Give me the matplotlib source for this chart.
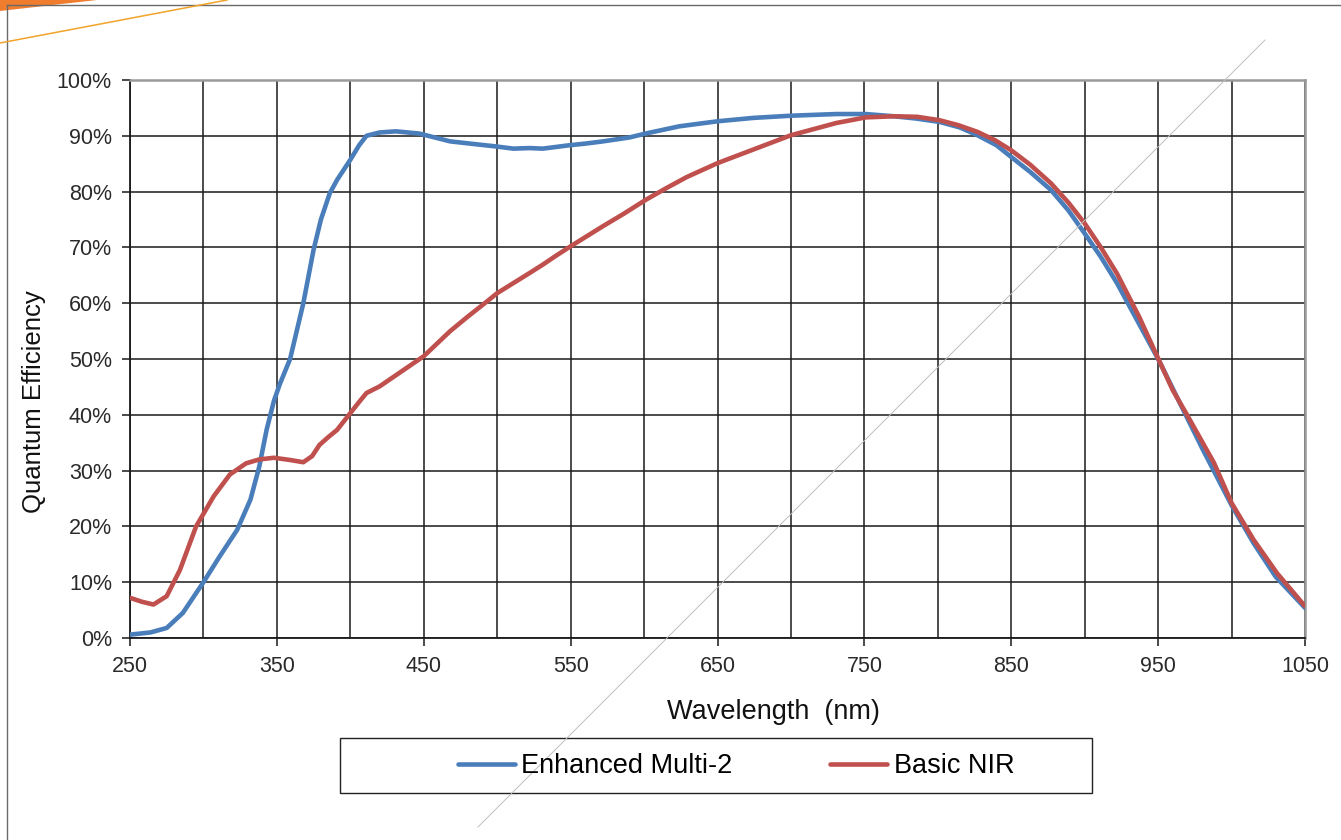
import numpy as np
import matplotlib
matplotlib.use('Agg')
import matplotlib.pyplot as plt
from matplotlib.lines import Line2D
from matplotlib.patches import Rectangle, Polygon

plt.rcParams['font.family'] = ['Liberation Sans', 'DejaVu Sans']

# wavelength (nm) / quantum efficiency (%)
enh_nm = [250, 264, 275, 286, 300, 311, 323, 332, 338, 343, 348, 352, 359, 368,
          375, 380, 386, 391, 400, 406, 411, 420, 431, 447, 468, 485, 499, 511,
          522, 531, 540, 549, 560, 572, 590, 601, 624, 650, 674, 700, 731, 751,
          770, 785, 801, 815, 827, 840, 850, 863, 877, 889, 900, 911, 922, 936,
          951, 965, 980, 1000, 1015, 1030, 1050]
enh_qe = [0.6, 1.0, 1.8, 4.5, 10.0, 14.6, 19.4, 24.8, 30.7, 37.3, 42.5, 45.5, 50.0, 60.0,
          69.6, 75.0, 79.7, 82.1, 85.7, 88.3, 90.0, 90.6, 90.8, 90.4, 89.0, 88.5, 88.1, 87.7,
          87.8, 87.7, 88.0, 88.3, 88.6, 89.0, 89.7, 90.4, 91.7, 92.6, 93.2, 93.6, 93.9, 93.9,
          93.5, 93.1, 92.5, 91.5, 90.1, 88.3, 86.2, 83.5, 80.3, 76.6, 72.5, 68.3, 63.6, 56.8,
          49.5, 42.0, 34.0, 23.8, 17.0, 11.0, 5.4]

nir_nm = [250, 258, 266, 275, 284, 295, 307, 318, 329, 338, 348, 359, 368, 374,
          379, 385, 391, 400, 406, 411, 420, 435, 450, 468, 480, 493, 500, 511,
          522, 531, 540, 550, 561, 572, 586, 601, 615, 629, 650, 674, 700, 731,
          751, 770, 786, 801, 814, 827, 839, 850, 863, 877, 889, 900, 911, 922,
          937, 950, 960, 969, 988, 1000, 1015, 1031, 1050]
nir_qe = [7.2, 6.5, 6.0, 7.5, 12.2, 20.0, 25.4, 29.3, 31.3, 32.0, 32.3, 31.9, 31.5, 32.6,
          34.6, 36.0, 37.3, 40.3, 42.3, 43.9, 45.1, 47.8, 50.5, 55.0, 57.6, 60.3, 61.8, 63.6,
          65.4, 66.9, 68.5, 70.2, 72.0, 73.8, 76.0, 78.5, 80.6, 82.6, 85.1, 87.5, 90.1, 92.3,
          93.3, 93.5, 93.4, 92.8, 91.9, 90.7, 89.2, 87.4, 84.8, 81.5, 78.0, 74.3, 70.0, 65.3,
          57.6, 50.1, 44.4, 40.3, 31.4, 24.2, 17.6, 11.6, 5.7]

x_ticks = [250, 350, 450, 550, 650, 750, 850, 950, 1050]
y_ticks = [0, 10, 20, 30, 40, 50, 60, 70, 80, 90, 100]
y_labels = ['%d%%' % v for v in y_ticks]
series_names = ['Enhanced Multi-2', 'Basic NIR']
colors = ['#4a7ebb', '#c0504d']

W, H = 1341, 840
fig = plt.figure(figsize=(W / 100, H / 100), dpi=100)
ax = fig.add_axes([130 / W, 1 - 638 / H, 1175 / W, 558 / H])

ax.plot(enh_nm, enh_qe, color=colors[0], lw=3.3, solid_capstyle='round',
        solid_joinstyle='round', zorder=3)
ax.plot(nir_nm, nir_qe, color=colors[1], lw=3.3, solid_capstyle='round',
        solid_joinstyle='round', zorder=4)

ax.set_xlim(250, 1050)
ax.set_ylim(0, 100)
ax.set_xticks(x_ticks)
ax.set_xticks([300, 400, 500, 600, 700, 800, 900, 1000], minor=True)
ax.set_yticks(y_ticks)
ax.set_yticklabels(y_labels)
ax.grid(True, which='both', color='#1a1a1a', lw=1.1, zorder=1)
ax.set_axisbelow(True)
ax.tick_params(axis='both', which='major', labelsize=15.5, colors='#2a2a2a', length=6, width=1.2)
ax.tick_params(axis='x', which='minor', length=0)
ax.tick_params(axis='y', pad=7)
ax.tick_params(axis='x', pad=7)
for s in ['left', 'bottom']:
    ax.spines[s].set_color('#1a1a1a')
    ax.spines[s].set_linewidth(1.3)
for s in ['top', 'right']:
    ax.spines[s].set_color('#9a9a9a')
    ax.spines[s].set_linewidth(1.8)

fig.text(34 / W, 1 - 402 / H, 'Quantum Efficiency', rotation=90, ha='center', va='center',
         fontsize=18.5, color='#111111')
fig.text(773 / W, 1 - 712 / H, 'Wavelength  (nm)', ha='center', va='center',
         fontsize=19.5, color='#111111')

# legend box below the plot
fig.add_artist(Rectangle((340 / W, 1 - 793 / H), 752 / W, 55 / H, transform=fig.transFigure,
                         fill=False, edgecolor='#222222', lw=1.0))
handles = [Line2D([], [], color=c, lw=3.3, solid_capstyle='round') for c in colors]
fig.legend(handles, series_names, loc='center', bbox_to_anchor=(736 / W, 1 - 766 / H),
           ncol=2, frameon=False, fontsize=19.5, handlelength=2.1, handletextpad=0.25,
           columnspacing=3.6)

# slide decorations
fig.add_artist(Line2D([7 / W, 1], [1 - 5 / H, 1 - 5 / H], transform=fig.transFigure,
                      color='#6a6a6a', lw=1.0))
fig.add_artist(Line2D([7 / W, 7 / W], [0, 1 - 5 / H], transform=fig.transFigure,
                      color='#6a6a6a', lw=1.0))
fig.add_artist(Polygon([[0, 1], [97 / W, 1], [0, 1 - 11 / H]], closed=True,
                       transform=fig.transFigure, color='#ef7d2d', lw=0))
fig.add_artist(Line2D([0, 227 / W], [1 - 43 / H, 1], transform=fig.transFigure,
                      color='#f2a32a', lw=1.1))
fig.add_artist(Line2D([478 / W, 1265 / W], [1 - 827 / H, 1 - 40 / H], transform=fig.transFigure,
                      color='#bdbdbd', lw=0.7, zorder=5))

fig.savefig('out.png', dpi=100)
